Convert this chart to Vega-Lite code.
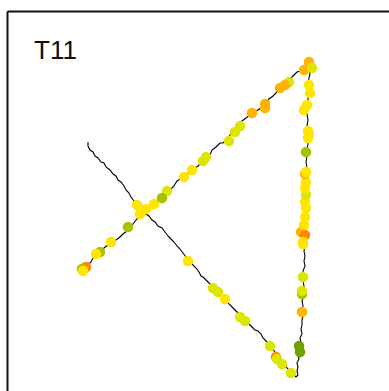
{
  "$schema": "https://vega.github.io/schema/vega-lite/v6.json",
  "width": 382,
  "height": 380,
  "autosize": {"type": "none"},
  "padding": {"left": 7, "top": 11, "right": 0, "bottom": 0},
  "background": "white",
  "config": {
    "view": {"stroke": null},
    "axis": {"domainColor": "#111111", "domainWidth": 2, "ticks": false, "labels": false, "grid": false, "title": null}
  },
  "datasets": {
    "track": [
      {"i":1,"x":88,"y":142},{"i":2,"x":88,"y":146},{"i":3,"x":90,"y":150},{"i":4,"x":93,"y":152},{"i":5,"x":95,"y":156},{"i":6,"x":98,"y":158},{"i":7,"x":101,"y":162},{"i":8,"x":104,"y":163},{"i":9,"x":106,"y":167},{"i":10,"x":110,"y":170},
      {"i":11,"x":113,"y":174},{"i":12,"x":116,"y":176},{"i":13,"x":118,"y":180},{"i":14,"x":121,"y":182},{"i":15,"x":124,"y":186},{"i":16,"x":126,"y":190},{"i":17,"x":129,"y":193},{"i":18,"x":131,"y":197},{"i":19,"x":134,"y":201},{"i":20,"x":137,"y":204},
      {"i":21,"x":140,"y":208},{"i":22,"x":143,"y":211},{"i":23,"x":146,"y":214},{"i":24,"x":149,"y":216},{"i":25,"x":152,"y":220},{"i":26,"x":155,"y":222},{"i":27,"x":158,"y":226},{"i":28,"x":162,"y":228},{"i":29,"x":165,"y":232},{"i":30,"x":168,"y":236},
      {"i":31,"x":171,"y":239},{"i":32,"x":174,"y":242},{"i":33,"x":177,"y":246},{"i":34,"x":180,"y":249},{"i":35,"x":183,"y":253},{"i":36,"x":186,"y":257},{"i":37,"x":189,"y":261},{"i":38,"x":193,"y":265},{"i":39,"x":196,"y":268},{"i":40,"x":199,"y":272},
      {"i":41,"x":201,"y":276},{"i":42,"x":203,"y":277},{"i":43,"x":206,"y":280},{"i":44,"x":209,"y":283},{"i":45,"x":213,"y":287},{"i":46,"x":217,"y":291},{"i":47,"x":221,"y":295},{"i":48,"x":225,"y":299},{"i":49,"x":229,"y":304},{"i":50,"x":233,"y":308},
      {"i":51,"x":237,"y":312},{"i":52,"x":241,"y":316},{"i":53,"x":245,"y":320},{"i":54,"x":249,"y":324},{"i":55,"x":252,"y":327},{"i":56,"x":255,"y":330},{"i":57,"x":258,"y":331},{"i":58,"x":261,"y":334},{"i":59,"x":263,"y":338},{"i":60,"x":266,"y":341},
      {"i":61,"x":269,"y":344},{"i":62,"x":272,"y":348},{"i":63,"x":275,"y":352},{"i":64,"x":278,"y":356},{"i":65,"x":281,"y":360},{"i":66,"x":284,"y":364},{"i":67,"x":287,"y":368},{"i":68,"x":290,"y":371},{"i":69,"x":293,"y":374},{"i":70,"x":296,"y":377},
      {"i":71,"x":298,"y":375},{"i":72,"x":297,"y":371},{"i":73,"x":298,"y":367},{"i":74,"x":297,"y":363},{"i":75,"x":299,"y":359},{"i":76,"x":298,"y":355},{"i":77,"x":300,"y":351},{"i":78,"x":299,"y":347},{"i":79,"x":301,"y":343},{"i":80,"x":300,"y":338},
      {"i":81,"x":302,"y":334},{"i":82,"x":301,"y":329},{"i":83,"x":302,"y":325},{"i":84,"x":302,"y":320},{"i":85,"x":303,"y":316},{"i":86,"x":302,"y":311},{"i":87,"x":303,"y":306},{"i":88,"x":302,"y":301},{"i":89,"x":304,"y":296},{"i":90,"x":303,"y":291},
      {"i":91,"x":304,"y":286},{"i":92,"x":303,"y":281},{"i":93,"x":304,"y":276},{"i":94,"x":303,"y":271},{"i":95,"x":305,"y":266},{"i":96,"x":304,"y":261},{"i":97,"x":305,"y":256},{"i":98,"x":304,"y":251},{"i":99,"x":305,"y":246},{"i":100,"x":305,"y":240},
      {"i":101,"x":305,"y":234},{"i":102,"x":306,"y":228},{"i":103,"x":305,"y":222},{"i":104,"x":306,"y":216},{"i":105,"x":305,"y":210},{"i":106,"x":306,"y":204},{"i":107,"x":306,"y":198},{"i":108,"x":306,"y":192},{"i":109,"x":306,"y":186},{"i":110,"x":306,"y":180},
      {"i":111,"x":306,"y":174},{"i":112,"x":307,"y":168},{"i":113,"x":306,"y":162},{"i":114,"x":307,"y":156},{"i":115,"x":307,"y":150},{"i":116,"x":308,"y":144},{"i":117,"x":307,"y":138},{"i":118,"x":308,"y":132},{"i":119,"x":307,"y":126},{"i":120,"x":308,"y":120},
      {"i":121,"x":307,"y":114},{"i":122,"x":307,"y":108},{"i":123,"x":308,"y":102},{"i":124,"x":308,"y":96},{"i":125,"x":309,"y":90},{"i":126,"x":308,"y":84},{"i":127,"x":309,"y":78},{"i":128,"x":310,"y":74},{"i":129,"x":309,"y":70},{"i":130,"x":311,"y":66},
      {"i":131,"x":312,"y":62},{"i":132,"x":308,"y":66},{"i":133,"x":304,"y":68},{"i":134,"x":300,"y":71},{"i":135,"x":297,"y":72},{"i":136,"x":295,"y":74},{"i":137,"x":292,"y":77},{"i":138,"x":288,"y":80},{"i":139,"x":284,"y":84},{"i":140,"x":280,"y":88},
      {"i":141,"x":277,"y":92},{"i":142,"x":273,"y":96},{"i":143,"x":269,"y":99},{"i":144,"x":265,"y":104},{"i":145,"x":262,"y":107},{"i":146,"x":258,"y":110},{"i":147,"x":254,"y":112},{"i":148,"x":250,"y":115},{"i":149,"x":246,"y":118},{"i":150,"x":242,"y":121},
      {"i":151,"x":238,"y":126},{"i":152,"x":234,"y":130},{"i":153,"x":230,"y":135},{"i":154,"x":227,"y":139},{"i":155,"x":223,"y":143},{"i":156,"x":220,"y":143},{"i":157,"x":216,"y":147},{"i":158,"x":212,"y":150},{"i":159,"x":210,"y":155},{"i":160,"x":206,"y":158},
      {"i":161,"x":202,"y":162},{"i":162,"x":198,"y":166},{"i":163,"x":194,"y":169},{"i":164,"x":190,"y":172},{"i":165,"x":186,"y":175},{"i":166,"x":182,"y":178},{"i":167,"x":177,"y":181},{"i":168,"x":174,"y":186},{"i":169,"x":171,"y":189},{"i":170,"x":167,"y":192},
      {"i":171,"x":163,"y":196},{"i":172,"x":159,"y":199},{"i":173,"x":155,"y":203},{"i":174,"x":151,"y":206},{"i":175,"x":147,"y":209},{"i":176,"x":143,"y":213},{"i":177,"x":139,"y":217},{"i":178,"x":136,"y":220},{"i":179,"x":133,"y":224},{"i":180,"x":130,"y":228},
      {"i":181,"x":127,"y":231},{"i":182,"x":123,"y":234},{"i":183,"x":120,"y":237},{"i":184,"x":116,"y":240},{"i":185,"x":112,"y":242},{"i":186,"x":108,"y":245},{"i":187,"x":104,"y":248},{"i":188,"x":100,"y":252},{"i":189,"x":96,"y":255},{"i":190,"x":93,"y":258},
      {"i":191,"x":91,"y":262},{"i":192,"x":88,"y":265},{"i":193,"x":85,"y":268},{"i":194,"x":83,"y":270}
    ],
    "fixes": [
      {"x":188,"y":261,"c":"Y"},{"x":213,"y":288,"c":"L"},{"x":218,"y":292,"c":"L"},{"x":225,"y":299,"c":"Y"},{"x":240,"y":317,"c":"L"},{"x":245,"y":321,"c":"L"},{"x":270,"y":346,"c":"L"},{"x":276,"y":357,"c":"D"},{"x":277,"y":359,"c":"L"},{"x":282,"y":364,"c":"L"},{"x":291,"y":373,"c":"L"},
      {"x":300,"y":352,"c":"K"},{"x":299,"y":346,"c":"K"},{"x":302,"y":312,"c":"O"},{"x":302,"y":294,"c":"G"},{"x":302,"y":291,"c":"L"},{"x":303,"y":277,"c":"L"},
      {"x":303,"y":244,"c":"Y"},{"x":301,"y":232,"c":"O"},{"x":305,"y":235,"c":"D"},{"x":303,"y":242,"c":"Y"},{"x":304,"y":225,"c":"Y"},{"x":305,"y":217,"c":"Y"},{"x":306,"y":208,"c":"Y"},{"x":305,"y":202,"c":"Y"},{"x":306,"y":195,"c":"L"},{"x":305,"y":188,"c":"Y"},{"x":306,"y":182,"c":"Y"},{"x":305,"y":174,"c":"O"},{"x":306,"y":172,"c":"Y"},
      {"x":306,"y":152,"c":"G"},{"x":308,"y":138,"c":"Y"},{"x":309,"y":134,"c":"Y"},{"x":308,"y":131,"c":"Y"},{"x":304,"y":110,"c":"Y"},{"x":307,"y":105,"c":"Y"},{"x":310,"y":93,"c":"Y"},{"x":309,"y":85,"c":"Y"},
      {"x":309,"y":62,"c":"O"},{"x":304,"y":70,"c":"O"},{"x":312,"y":68,"c":"L"},{"x":289,"y":82,"c":"L"},{"x":285,"y":85,"c":"O"},{"x":280,"y":88,"c":"O"},{"x":265,"y":104,"c":"O"},{"x":265,"y":108,"c":"O"},{"x":252,"y":113,"c":"O"},{"x":240,"y":126,"c":"L"},{"x":235,"y":132,"c":"L"},{"x":229,"y":141,"c":"L"},{"x":206,"y":157,"c":"L"},{"x":203,"y":161,"c":"L"},{"x":192,"y":170,"c":"Y"},{"x":184,"y":177,"c":"Y"},{"x":167,"y":191,"c":"L"},{"x":162,"y":198,"c":"G"},{"x":154,"y":204,"c":"Y"},{"x":146,"y":209,"c":"Y"},{"x":137,"y":205,"c":"Y"},{"x":140,"y":214,"c":"Y"},{"x":128,"y":227,"c":"G"},{"x":111,"y":242,"c":"Y"},{"x":100,"y":252,"c":"G"},{"x":96,"y":254,"c":"Y"},{"x":86,"y":267,"c":"D"},{"x":82,"y":269,"c":"G"},{"x":83,"y":271,"c":"Y"}
    ],
    "labels": [{"label": "T11", "x": 34, "y": 59}]
  },
  "layer": [
    {
      "data": {"name": "track"},
      "mark": {"type": "line", "color": "#000000", "strokeWidth": 1.1},
      "encoding": {
        "x": {"field": "x", "type": "quantitative", "scale": {"domain": [7, 389], "nice": false, "zero": false}, "axis": {"orient": "top"}},
        "y": {"field": "y", "type": "quantitative", "scale": {"domain": [11, 391], "nice": false, "zero": false, "reverse": true}, "axis": {"orient": "left"}},
        "order": {"field": "i", "type": "quantitative"}
      }
    },
    {
      "data": {"name": "fixes"},
      "mark": {"type": "circle", "size": 110, "opacity": 1},
      "encoding": {
        "x": {"field": "x", "type": "quantitative"},
        "y": {"field": "y", "type": "quantitative"},
        "color": {"field": "c", "type": "nominal", "legend": null,
          "scale": {"domain": ["Y", "L", "O", "D", "G", "K"], "range": ["#FFE500", "#DCE600", "#FFB400", "#FF8A00", "#A6C200", "#6FA200"]}}
      }
    },
    {
      "data": {"name": "labels"},
      "mark": {"type": "text", "align": "left", "baseline": "alphabetic", "font": "Liberation Sans", "fontSize": 26, "color": "#111111"},
      "encoding": {
        "x": {"field": "x", "type": "quantitative"},
        "y": {"field": "y", "type": "quantitative"},
        "text": {"field": "label"}
      }
    }
  ]
}
